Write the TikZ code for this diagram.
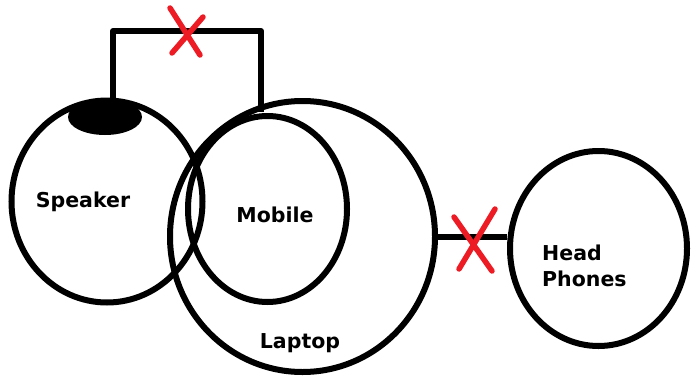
\documentclass[tikz,border=0pt]{standalone}
\usepackage{fontspec}
\setmainfont{DejaVu Sans}
\usetikzlibrary{shapes.geometric}
\definecolor{xred}{RGB}{237,28,36}
\begin{document}
\begin{tikzpicture}[x=1pt,y=-1pt,
  ring/.style={draw=black,line width=6pt,ellipse,inner sep=0pt,fill=none},
  wire/.style={draw=black,line width=6pt},
  cross/.style={draw=xred,line width=5.5pt,line cap=round},
  lbl/.style={font=\bfseries\fontsize{20.5}{26}\selectfont,inner sep=0pt}]
\useasboundingbox (0,0) rectangle (695,380);
\node[ring,minimum width=191pt,minimum height=202pt] (speaker) at (107,201.5) {};
\node[ring,minimum width=265pt,minimum height=271pt] (laptop) at (302.5,236.5) {};
\node[ring,minimum width=159pt,minimum height=186pt] (mobile) at (267.5,209) {};
\node[ring,minimum width=177pt,minimum height=195pt] (phones) at (598.5,248.5) {};
\node[ellipse,fill=black,inner sep=0pt,minimum width=74pt,minimum height=36pt] (blob) at (105,117) {};
\node[lbl] (tspeaker) at (83,202) {Speaker};
\node[lbl] (tmobile) at (275,215) {Mobile};
\node[lbl] (tlaptop) at (300,343) {Laptop};
\node[lbl,align=left,anchor=west] (tphones) at (542,266) {Head\\Phones};
% top wire
\coordinate (c1) at (113,31);
\coordinate (c2) at (261,31);
\coordinate (c3) at (261,112);
\draw[wire,line join=round] (blob.north -| c1) -- (c1) -- (c2) -- (c3);
% side wire
\draw[wire] (laptop.east) -- (laptop.east -| phones.west);
% crosses
\coordinate (x1a) at (170,8); \coordinate (x1b) at (200,55);
\coordinate (x1c) at (203,17); \coordinate (x1d) at (172,53);
\draw[cross] (x1a) -- (x1b);
\draw[cross] (x1c) -- (x1d);
\coordinate (x2a) at (454,217); \coordinate (x2b) at (492,271);
\coordinate (x2c) at (495,209); \coordinate (x2d) at (459,269);
\draw[cross] (x2a) -- (x2b);
\draw[cross] (x2c) -- (x2d);
\end{tikzpicture}
\end{document}
